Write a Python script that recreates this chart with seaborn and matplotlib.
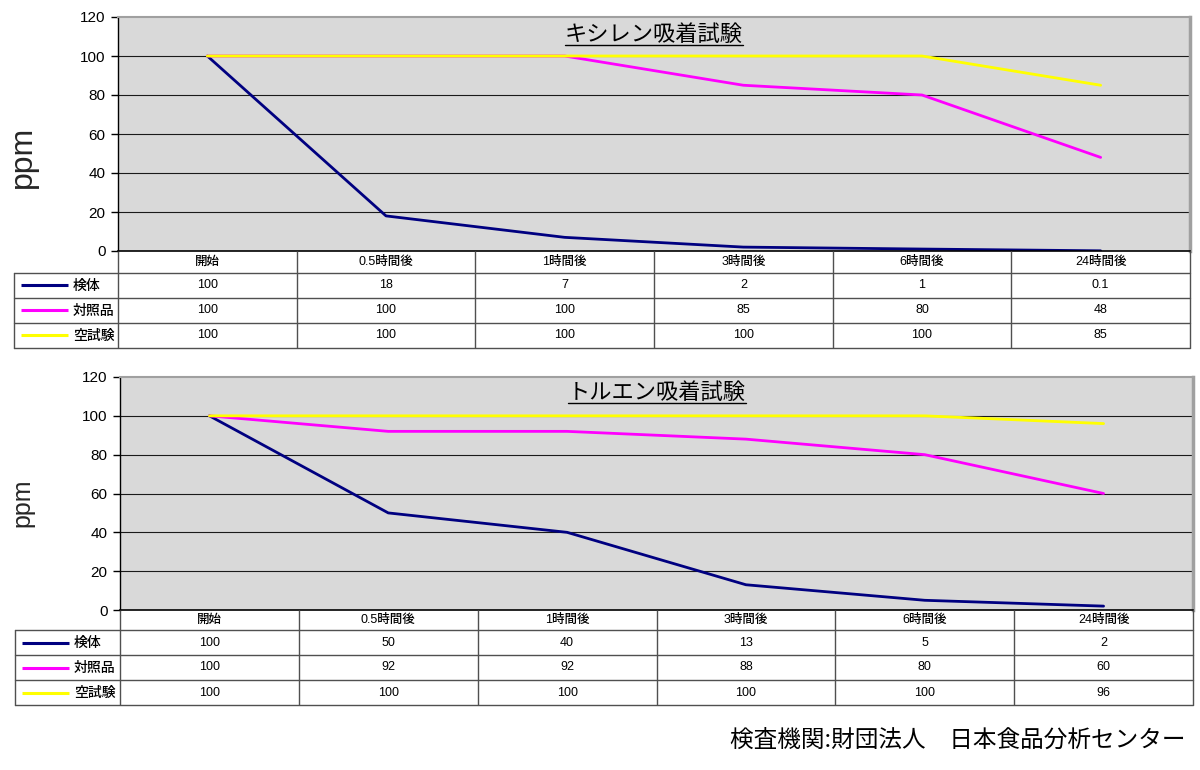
import numpy as np
import pandas as pd
import matplotlib
matplotlib.use("Agg")
import matplotlib.pyplot as plt
from matplotlib.lines import Line2D
import seaborn as sns

# ---------------- data ----------------
categories = ["開始", "0.5時間後", "1時間後", "3時間後", "6時間後", "24時間後"]
series_names = ["検体", "対照品", "空試験"]

xylene_kentai = [100, 18, 7, 2, 1, 0.1]
xylene_taisho = [100, 100, 100, 85, 80, 48]
xylene_blank = [100, 100, 100, 100, 100, 85]

toluene_kentai = [100, 50, 40, 13, 5, 2]
toluene_taisho = [100, 92, 92, 88, 80, 60]
toluene_blank = [100, 100, 100, 100, 100, 96]

y_ticks = [0, 20, 40, 60, 80, 100, 120]
colors = ["#000080", "#FF00FF", "#FFFF00"]

title_top = "キシレン吸着試験"
title_bottom = "トルエン吸着試験"
footer = "検査機関:財団法人　日本食品分析センター"
ylabel = "ppm"

# ---------------- style ----------------
sns.set_theme(style="white")
plt.rcParams["font.family"] = ["Liberation Sans", "Noto Sans CJK JP"]

W, H = 1200, 770
fig = plt.figure(figsize=(W / 100, H / 100), dpi=100)
fig.patch.set_facecolor("white")


def rect(x0, y0, x1, y1):
    return [x0 / W, 1 - y1 / H, (x1 - x0) / W, (y1 - y0) / H]


def fmt(v):
    return f"{v:g}"


titles_to_underline = []


def panel(title, values, plot_box, table_bottom, header_h, leg_x0,
          ylabel_size, ylabel_x, ylabel_y, title_y):
    x0, y0, x1, y1 = plot_box
    n = len(categories)
    ax = fig.add_axes(rect(*plot_box))
    rows = []
    for name, vals in zip(series_names, values):
        for i, (c, v) in enumerate(zip(categories, vals)):
            rows.append({"pos": i, "cat": c, "series": name, "value": v})
    df = pd.DataFrame(rows)
    sns.lineplot(data=df, x="pos", y="value", hue="series",
                 hue_order=series_names, palette=colors, linewidth=2.0,
                 ax=ax, legend=False, sort=False, estimator=None)
    ax.set_xlim(-0.5, n - 0.5)
    ax.set_ylim(y_ticks[0], y_ticks[-1])
    ax.set_yticks(y_ticks)
    ax.set_xticks([])
    ax.set_xlabel("")
    ax.set_ylabel("")
    ax.set_facecolor("#D9D9D9")
    for yt in y_ticks[1:-1]:
        ax.axhline(yt, color="#1a1a1a", lw=0.8, zorder=0.5)
    ax.tick_params(axis="y", which="major", direction="out", length=5,
                   width=1, color="black", labelsize=11, pad=4,
                   left=True, labelcolor="black")
    for lab in ax.get_yticklabels():
        lab.set_fontfamily(["Liberation Sans"])
    ax.spines["left"].set_color("black")
    ax.spines["left"].set_linewidth(1.0)
    ax.spines["bottom"].set_color("black")
    ax.spines["bottom"].set_linewidth(1.2)
    ax.spines["top"].set_color("#A0A0A0")
    ax.spines["top"].set_linewidth(1.5)
    ax.spines["right"].set_color("#A0A0A0")
    ax.spines["right"].set_linewidth(2.5)

    t = ax.text(0.5, title_y, title, transform=ax.transAxes, ha="center",
                va="center", fontsize=16, color="black",
                family=["Noto Sans CJK JP"])
    titles_to_underline.append(t)

    fig.text(ylabel_x / W, 1 - ylabel_y / H, ylabel, rotation=90,
             ha="center", va="center", fontsize=ylabel_size,
             family=["Liberation Sans"])

    # ---- data table ----
    tax = fig.add_axes(rect(leg_x0, y1, x1, table_bottom))
    tax.set_xlim(leg_x0, x1)
    tax.set_ylim(table_bottom, y1)
    tax.axis("off")
    col_w = (x1 - x0) / n
    row_h = (table_bottom - y1 - header_h) / len(series_names)
    lc = "#505050"
    lw = 1.0
    for i in range(n + 1):
        xx = x0 + i * col_w
        tax.plot([xx, xx], [y1, table_bottom], color=lc, lw=lw,
                 solid_capstyle="butt", clip_on=False)
    tax.plot([leg_x0, leg_x0], [y1 + header_h, table_bottom], color=lc,
             lw=lw, clip_on=False)
    tax.plot([leg_x0, x1], [y1 + header_h] * 2, color=lc, lw=lw, clip_on=False)
    for r in range(1, len(series_names) + 1):
        yy = y1 + header_h + r * row_h
        tax.plot([leg_x0, x1], [yy, yy], color=lc, lw=lw, clip_on=False)
    for i, c in enumerate(categories):
        tax.text(x0 + (i + 0.5) * col_w, y1 + header_h / 2, c, ha="center",
                 va="center", fontsize=9, color="black", weight="medium")
    for r, (name, vals, col) in enumerate(zip(series_names, values, colors)):
        yc = y1 + header_h + (r + 0.5) * row_h
        tax.plot([leg_x0 + 7, leg_x0 + 54], [yc, yc], color=col, lw=2.2,
                 solid_capstyle="butt")
        tax.text(leg_x0 + 59, yc, name, ha="left", va="center",
                 fontsize=10, color="black", weight="medium")
        for i, v in enumerate(vals):
            tax.text(x0 + (i + 0.5) * col_w, yc, fmt(v), ha="center",
                     va="center", fontsize=9, color="black")
    return ax


panel(title_top, [xylene_kentai, xylene_taisho, xylene_blank],
      (118, 17, 1190, 251), 348, 22, 14, 23, 23, 157, 0.925)
panel(title_bottom, [toluene_kentai, toluene_taisho, toluene_blank],
      (120, 377, 1193, 610), 705, 20, 15, 18, 22, 503, 0.935)

fig.text(1186 / W, 1 - 740 / H, footer, ha="right", va="center",
         fontsize=17, color="black", family=["Noto Sans CJK JP"])

fig.canvas.draw()
renderer = fig.canvas.get_renderer()
for t in titles_to_underline:
    bb = t.get_window_extent(renderer=renderer)
    yb = bb.y0 + 1
    fig.add_artist(Line2D([bb.x0 / W, bb.x1 / W], [yb / H, yb / H],
                          color="black", lw=1.0, transform=fig.transFigure))

fig.savefig("out.png", dpi=100, facecolor="white")
